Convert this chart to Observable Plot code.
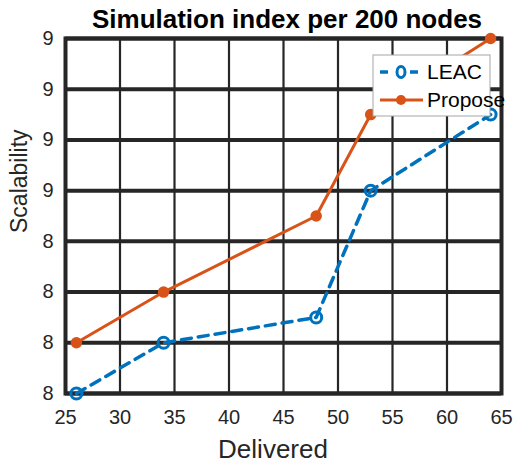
<!DOCTYPE html>
<html><head><meta charset="utf-8">
<script src="https://cdn.jsdelivr.net/npm/d3@7"></script>
<script src="https://cdn.jsdelivr.net/npm/@observablehq/plot@0.6"></script>
<style>
html,body{margin:0;padding:0;background:#fff;}
#chart{position:relative;width:514px;height:464px;}
</style>
</head><body><div id="chart"></div>
<script>
const delivered = [26, 34, 48, 53, 64];
const leac = [8.10, 8.20, 8.25, 8.50, 8.65];
const propose = [8.20, 8.30, 8.45, 8.65, 8.80];
const xTicks = [25, 30, 35, 40, 45, 50, 55, 60, 65];
const yTicks = [8.1, 8.2, 8.3, 8.4, 8.5, 8.6, 8.7, 8.8];
const yTickLabels = ["8", "8", "8", "8", "9", "9", "9", "9"];
const seriesNames = ["LEAC", "Propose"];
const colors = ["#0072BD", "#D95319"];

const leacData = delivered.map((d, i) => ({x: d, y: leac[i]}));
const propData = delivered.map((d, i) => ({x: d, y: propose[i]}));
const ink = "#262626";
const font = "'Liberation Sans', Arial, sans-serif";
const yFmt = (d) => yTickLabels[yTicks.findIndex(t => Math.abs(t - d) < 1e-9)];

const plot = Plot.plot({
  width: 514, height: 464,
  marginLeft: 65, marginRight: 13, marginTop: 38, marginBottom: 71,
  style: {fontFamily: font, fontSize: "20px", color: ink, background: "#fff"},
  x: {domain: [25, 65], ticks: xTicks, label: null},
  y: {domain: [8.1, 8.8], ticks: yTicks, label: null, tickFormat: yFmt},
  marks: [
    Plot.gridX(xTicks, {stroke: ink, strokeOpacity: 1, strokeWidth: 2.2}),
    Plot.gridY(yTicks, {stroke: ink, strokeOpacity: 1, strokeWidth: 4}),
    Plot.frame({stroke: ink, strokeWidth: 4}),
    Plot.axisX({ticks: xTicks, tickSize: 0, tickPadding: 16, fontSize: 20, fill: ink}),
    Plot.axisY({ticks: yTicks, tickSize: 0, tickPadding: 12, fontSize: 20, fill: ink, tickFormat: yFmt}),
    Plot.lineY(leacData, {x: "x", y: "y", stroke: colors[0], strokeWidth: 3.5, strokeDasharray: "10,7"}),
    Plot.lineY(propData, {x: "x", y: "y", stroke: colors[1], strokeWidth: 3}),
    Plot.dot(leacData, {x: "x", y: "y", r: 5.5, stroke: colors[0], strokeWidth: 3, fill: "none"}),
    Plot.dot(propData, {x: "x", y: "y", r: 5, fill: colors[1], stroke: colors[1]}),
    Plot.text(["Simulation index per 200 nodes"], {frameAnchor: "top", dx: 3.5, dy: -19, lineAnchor: "middle", fontSize: 26, fontWeight: "bold", fill: "#000"}),
    Plot.text(["Delivered"], {frameAnchor: "bottom", dx: -10.5, dy: 56, lineAnchor: "middle", fontSize: 26, fill: ink}),
    Plot.text(["Scalability"], {frameAnchor: "left", dx: -46, dy: 17, lineAnchor: "middle", rotate: -90, fontSize: 23, fill: ink})
  ]
});
document.getElementById("chart").appendChild(plot);

// legend
const svg = d3.select(plot);
const lg = svg.append("g").attr("transform", "translate(373,55)");
lg.append("rect").attr("width", 117).attr("height", 61).attr("fill", "#fff").attr("stroke", "#a6a6a6").attr("stroke-width", 1);
seriesNames.forEach((name, i) => {
  const yy = 17 + i * 28;
  const g = lg.append("g").attr("transform", `translate(0,${yy})`);
  g.append("line").attr("x1", 7).attr("x2", 50).attr("y1", 0).attr("y2", 0)
    .attr("stroke", colors[i]).attr("stroke-width", i === 0 ? 3.5 : 3)
    .attr("stroke-dasharray", i === 0 ? "8,5,0,17,8" : null);
  if (i === 0) {
    g.append("ellipse").attr("cx", 28).attr("cy", 0).attr("rx", 4).attr("ry", 5.5).attr("fill", "none").attr("stroke", colors[i]).attr("stroke-width", 3);
  } else {
    g.append("circle").attr("cx", 28).attr("cy", 0).attr("r", 5).attr("fill", colors[i]);
  }
  g.append("text").attr("x", 54).attr("y", 0).attr("dy", "0.35em")
    .attr("text-anchor", "start")
    .attr("font-family", font).attr("font-size", 21).attr("fill", "#000").text(name);
});
</script>
</body></html>
